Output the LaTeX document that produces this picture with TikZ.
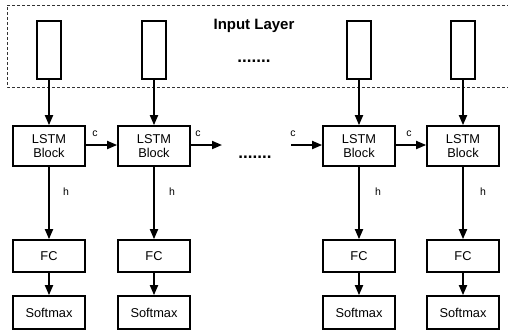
\documentclass[tikz,border=0pt]{standalone}
\usepackage{fontspec}
\setmainfont{Liberation Sans}
\usetikzlibrary{arrows.meta}
\begin{document}
\begin{tikzpicture}[x=1pt,y=-1pt,
  box/.style={draw,line width=1.7pt,inner sep=0pt,align=center,font=\fontsize{12.8}{14}\selectfont},
  inrect/.style={box,minimum width=23.5pt,minimum height=58pt},
  lstm/.style={box,minimum width=72pt,minimum height=40pt},
  fc/.style={box,minimum width=72pt,minimum height=32pt},
  smax/.style={box,minimum width=72pt,minimum height=33pt},
  arr/.style={line width=1.8pt,-{Triangle[length=10pt,width=8pt]}},
  lab/.style={font=\fontsize{10.5}{11}\selectfont,inner sep=0pt},
  dots/.style={font=\fontsize{17}{18}\bfseries,inner sep=0pt}]
\useasboundingbox (0,0) rectangle (508,333);
\draw[black!80,line width=0.8pt,dash pattern=on 3pt off 2pt] (515,5) -- (7,5) -- (7,87) -- (515,87);
\node[font=\fontsize{15}{16}\bfseries\selectfont] (title) at (254,26) {Input Layer};
\node[dots] (idots) at (254,61) {.......};
\foreach \i/\x in {1/49,2/154,3/359,4/463}{
  \node[inrect] (in\i) at (\x,50) {};
  \node[lstm] (l\i) at (\x,146) {LSTM\\Block};
  \node[fc] (f\i) at (\x,256) {FC};
  \node[smax] (s\i) at (\x,312.5) {Softmax};
  \draw[arr] (in\i) -- (l\i);
  \draw[arr] (l\i) -- (f\i);
  \draw[arr] (f\i) -- (s\i);
}
\node[lab] (h1) at (66,192) {h};
\node[lab] (h2) at (172,192) {h};
\node[lab] (h3) at (378,192) {h};
\node[lab] (h4) at (483,192) {h};
\coordinate (cout) at (222,145);
\coordinate (cin) at (291,145);
\draw[arr] (l1.east |- 0,145) -- (l2.west |- 0,145);
\draw[arr] (l2.east |- 0,145) -- (cout);
\draw[arr] (cin) -- (l3.west |- 0,145);
\draw[arr] (l3.east |- 0,145) -- (l4.west |- 0,145);
\node[lab] (c1) at (95,134) {c};
\node[lab] (c2) at (198,134) {c};
\node[lab] (c3) at (293,134) {c};
\node[lab] (c4) at (409,134) {c};
\node[dots] (mdots) at (255,157) {.......};
\end{tikzpicture}
\end{document}
